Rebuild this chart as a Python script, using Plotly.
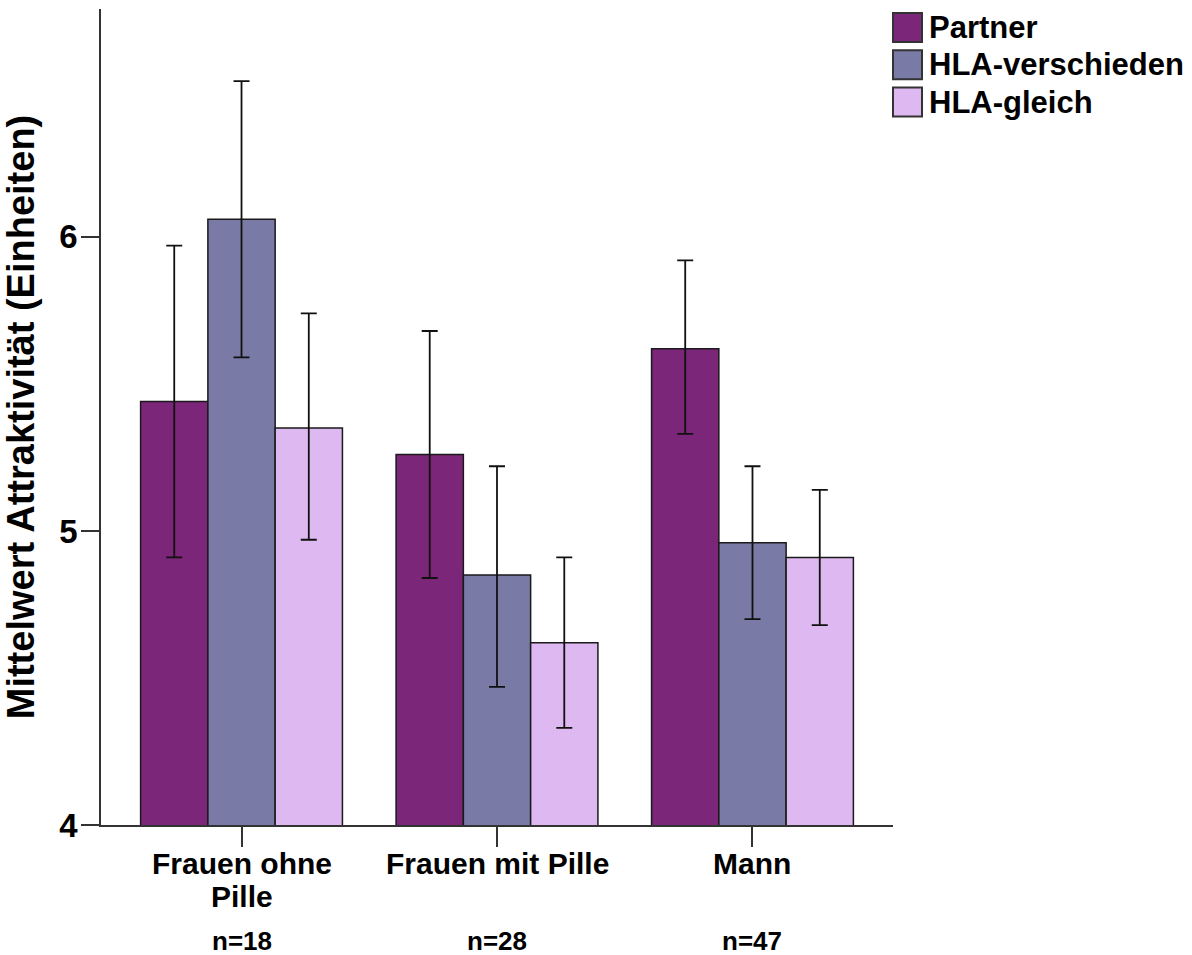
import plotly.graph_objects as go

# Gruppen und Stichprobengrößen
groups = ["Frauen ohne<br>Pille", "Frauen mit Pille", "Mann"]
n_labels = ["n=18", "n=28", "n=47"]

# Mittelwerte je Duft-Bedingung
series_names = ["Partner", "HLA-verschieden", "HLA-gleich"]
mean_partner = [5.44, 5.26, 5.62]
mean_hla_diff = [6.06, 4.85, 4.96]
mean_hla_same = [5.35, 4.62, 4.91]

# Obere / untere Grenzen der Fehlerbalken
upper_partner = [5.97, 5.68, 5.92]
lower_partner = [4.91, 4.84, 5.33]
upper_hla_diff = [6.53, 5.22, 5.22]
lower_hla_diff = [5.59, 4.47, 4.70]
upper_hla_same = [5.74, 4.91, 5.14]
lower_hla_same = [4.97, 4.33, 4.68]

colors = ["#7B2678", "#7A7AA6", "#DEB8F0"]

means = [mean_partner, mean_hla_diff, mean_hla_same]
uppers = [upper_partner, upper_hla_diff, upper_hla_same]
lowers = [lower_partner, lower_hla_diff, lower_hla_same]

FONT = "Liberation Sans, Arial, sans-serif"
PLOT_H = 816  # Höhe des Plotbereichs in Pixeln

fig = go.Figure()
for name, m, up, lo, col in zip(series_names, means, uppers, lowers, colors):
    fig.add_trace(go.Bar(
        x=groups,
        y=m,
        name=name,
        marker=dict(color=col, line=dict(color="#1a1a1a", width=1.5)),
        error_y=dict(
            type="data",
            symmetric=False,
            array=[u - v for u, v in zip(up, m)],
            arrayminus=[v - l for v, l in zip(m, lo)],
            color="#111111",
            thickness=1.8,
            width=8,
        ),
        showlegend=False,
    ))

# Gruppenbeschriftungen (zeilenweise, enger Zeilenabstand) und Stichprobengrößen
for g, lab in zip(groups, n_labels):
    for k, line in enumerate(g.split("<br>")):
        fig.add_annotation(
            x=g, y=-(38 + 34 * k) / PLOT_H, xref="x", yref="paper",
            text=f"<b>{line}</b>", showarrow=False,
            font=dict(family=FONT, size=30, color="black"),
            xanchor="center", yanchor="middle",
        )
    fig.add_annotation(
        x=g, y=-116 / PLOT_H, xref="x", yref="paper",
        text=f"<b>{lab}</b>", showarrow=False,
        font=dict(family=FONT, size=26, color="black"),
        xanchor="center", yanchor="middle",
    )

# Legende oben rechts
for i, (name, col) in enumerate(zip(series_names, colors)):
    yc = 1.0 - (27.5 + i * 37.3 - 9) / PLOT_H
    fig.add_shape(
        type="rect", xref="paper", yref="paper",
        xsizemode="pixel", ysizemode="pixel",
        xanchor=1.0, yanchor=yc,
        x0=0, x1=29, y0=-14.5, y1=14.5,
        fillcolor=col, line=dict(color="#333333", width=2),
    )
    fig.add_annotation(
        x=1.0, y=yc, xref="paper", yref="paper",
        xshift=34, xanchor="left", yanchor="middle",
        text=f"<b>{name}</b>", showarrow=False,
        font=dict(family=FONT, size=31, color="black"),
    )

fig.update_layout(
    width=1192, height=955,
    margin=dict(l=101, r=299, t=9, b=130),
    paper_bgcolor="white", plot_bgcolor="white",
    barmode="group", bargap=0.21, bargroupgap=0,
    font=dict(family=FONT, color="black"),
)
fig.update_xaxes(
    range=[-0.55, 2.55],
    showline=True, linecolor="#333333", linewidth=1.5,
    ticks="outside", ticklen=20, tickwidth=1.5, tickcolor="#333333",
    showticklabels=False,
    showgrid=False, zeroline=False,
)
fig.update_yaxes(
    range=[4, 6.775],
    tickvals=[4, 5, 6],
    showline=True, linecolor="#333333", linewidth=1.5,
    ticks="outside", ticklen=18, tickwidth=1.5, tickcolor="#333333",
    tickfont=dict(family=FONT, size=33, color="black", weight="bold"),
    ticklabelstandoff=-3,
    showgrid=False, zeroline=False,
    title=dict(
        text="<b>Mittelwert Attraktivität (Einheiten)</b>",
        font=dict(family=FONT, size=38, color="black"),
        standoff=14,
    ),
)

fig.write_html("out.html")
